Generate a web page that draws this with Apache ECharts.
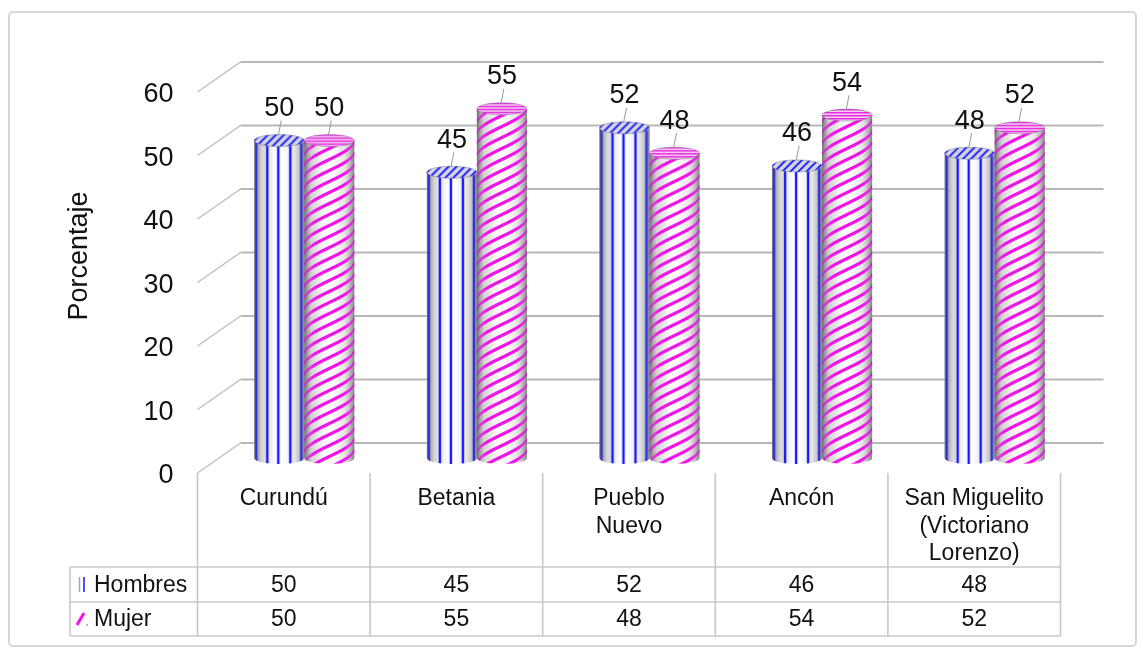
<!DOCTYPE html>
<html>
<head>
<meta charset="utf-8">
<script src="https://cdn.jsdelivr.net/npm/echarts@6/dist/echarts.min.js"></script>
<style>
  html, body { margin: 0; padding: 0; background: #fff; }
  #chart { width: 1143px; height: 652px; }
</style>
</head>
<body>
<div id="chart"></div>
<script>
// ---- data ----
const categories = ['Curundú', 'Betania', 'Pueblo\nNuevo', 'Ancón', 'San Miguelito\n(Victoriano\nLorenzo)'];
const seriesNames = ['Hombres', 'Mujer'];
const hombres = [50, 45, 52, 46, 48];
const mujer = [50, 55, 48, 54, 52];
const yTicks = [0, 10, 20, 30, 40, 50, 60];
const yTitle = 'Porcentaje';

// ---- look ----
const FONT = '"Liberation Sans", Arial, Helvetica, sans-serif';
const DX = 21.5, DY = 15;        // half depth of the 3D floor (bars stand in the middle plane)
const BAR_W = 50, RY = 6;        // cylinder width and ellipse half-height
const GRID_LINE = '#b8b8b8';
const TABLE_LINE = '#c8c8c8';
const BLUE = '#1414ff';
const MAGENTA = '#f014e8';

function makeCanvas(w, h) {
  const c = document.createElement('canvas');
  c.width = w; c.height = h;
  return c;
}

// vertical blue pinstripes wrapped round the Hombres cylinders
function verticalStripes() {
  const c = makeCanvas(BAR_W, 4), ctx = c.getContext('2d');
  ctx.fillStyle = BLUE;
  [2, 13, 24, 36, 47].forEach(x => ctx.fillRect(x - 1.2, 0, 2.4, 4));
  return c;
}

// magenta helix stripes for the Mujer cylinders
function helixStripes() {
  const P = 11, T = 3.6, C = 12, w = BAR_W;
  const c = makeCanvas(w, P), ctx = c.getContext('2d');
  const img = ctx.createImageData(w, P);
  for (let x = 0; x < w; x++) {
    const u = Math.max(-1, Math.min(1, (x + 0.5 - w / 2) / (w / 2)));
    const off = C * Math.asin(u);
    for (let y = 0; y < P; y++) {
      const d = (((y + 0.5 + off) % P) + P) % P - P / 2;
      const a = Math.max(0, Math.min(1, T / 2 + 0.5 - Math.abs(d)));
      const k = (y * w + x) * 4;
      img.data[k] = 240; img.data[k + 1] = 20; img.data[k + 2] = 232;
      img.data[k + 3] = Math.round(a * 255);
    }
  }
  ctx.putImageData(img, 0, 0);
  return c;
}

function diagonalTop() {
  const c = makeCanvas(8, 8), ctx = c.getContext('2d');
  ctx.strokeStyle = BLUE; ctx.lineWidth = 1.8;
  ctx.beginPath();
  ctx.moveTo(-1, 9); ctx.lineTo(9, -1);
  ctx.moveTo(-5, 5); ctx.lineTo(5, -5);
  ctx.moveTo(3, 13); ctx.lineTo(13, 3);
  ctx.stroke();
  return c;
}

function horizontalTop() {
  const c = makeCanvas(4, 3), ctx = c.getContext('2d');
  ctx.fillStyle = MAGENTA;
  ctx.fillRect(0, 0, 4, 1.4);
  return c;
}

const patterns = {
  Hombres: { body: verticalStripes(), top: diagonalTop(), topBase: '#d3d6e0', dx: -51 },
  Mujer:   { body: helixStripes(),    top: horizontalTop(), topBase: '#ebdbea', dx: -1 }
};

function linear(stops) {
  return { type: 'linear', x: 0, y: 0, x2: 1, y2: 0, global: false,
           colorStops: stops.map(([o, c]) => ({ offset: o, color: c })) };
}
const BASE_SHADE = [[0, '#8e8e8e'], [0.15, '#d4d4d4'], [0.4, '#fafafa'], [0.55, '#ffffff'], [0.8, '#e6e6e6'], [1, '#a2a2a2']];
const EDGE_SHADE = [[0, 'rgba(70,70,85,0.45)'], [0.18, 'rgba(255,255,255,0)'], [0.82, 'rgba(255,255,255,0)'], [1, 'rgba(70,70,85,0.35)']];

function cylinderSeries(name, values) {
  const p = patterns[name];
  return {
    type: 'custom',
    name: name,
    clip: false,
    z: 5,
    data: values.map((v, i) => [i, v]),
    renderItem(params, api) {
      const i = api.value(0), v = api.value(1);
      const top = api.coord([i, v]), base = api.coord([i, 0]);
      const x0 = top[0] + p.dx, x1 = x0 + BAR_W, mx = x0 + BAR_W / 2;
      const yT = top[1], yB = base[1];
      const body = `M${x0},${yT}L${x0},${yB}A${BAR_W / 2},${RY} 0 0 0 ${x1},${yB}L${x1},${yT}Z`;
      const ell = { cx: mx, cy: yT, rx: BAR_W / 2, ry: RY };
      return {
        type: 'group',
        children: [
          { type: 'path', shape: { pathData: body }, style: { fill: linear(BASE_SHADE) } },
          { type: 'path', shape: { pathData: body }, style: { fill: { image: p.body, repeat: 'repeat', x: x0, y: 0 } } },
          { type: 'path', shape: { pathData: body }, style: { fill: linear(EDGE_SHADE) } },
          { type: 'ellipse', shape: ell, style: { fill: p.topBase } },
          { type: 'ellipse', shape: ell, style: { fill: { image: p.top, repeat: 'repeat', x: x0, y: yT }, stroke: 'rgba(110,110,130,0.55)', lineWidth: 0.8 } },
          { type: 'line', shape: { x1: mx + 2, y1: yT - 20, x2: mx - 1, y2: yT - 5 }, style: { stroke: '#9a9a9a', lineWidth: 1 } },
          { type: 'text', x: mx, y: yT - 32,
            style: { text: String(v), font: `27px ${FONT}`, fill: '#111',
                     align: 'center', verticalAlign: 'middle', textAlign: 'center', textVerticalAlign: 'middle' } }
        ]
      };
    }
  };
}

// back wall gridlines, left wall edges and the value ticks on the front edge
const wallSeries = {
  type: 'custom',
  clip: false,
  z: 1,
  data: yTicks.map(v => [v]),
  renderItem(params, api) {
    const v = api.value(0);
    const cs = params.coordSys;
    const y = api.coord([0, v])[1];
    return {
      type: 'group',
      children: [
        { type: 'line', shape: { x1: cs.x + DX, y1: y - DY, x2: cs.x + cs.width + DX, y2: y - DY },
          style: { stroke: GRID_LINE, lineWidth: 2 } },
        { type: 'line', shape: { x1: cs.x - DX, y1: y + DY, x2: cs.x + DX, y2: y - DY },
          style: { stroke: '#c0c0c0', lineWidth: 1.5 } },
        { type: 'text', x: cs.x - DX - 24, y: y + DY + 3,
          style: { text: String(v), font: `27px ${FONT}`, fill: '#111',
                   align: 'right', verticalAlign: 'middle', textAlign: 'right', textVerticalAlign: 'middle' } }
      ]
    };
  }
};

// data table under the floor
const TABLE_LEFT = 70;
const tableSeries = {
  type: 'custom',
  clip: false,
  z: 2,
  data: categories.map((c, i) => [i, hombres[i], mujer[i]]),
  renderItem(params, api) {
    const i = api.value(0);
    const cs = params.coordSys;
    const band = cs.width / categories.length;
    const frontLeft = cs.x - DX, frontRight = cs.x + cs.width - DX;
    const left = frontLeft + band * i, cx = left + band / 2;
    const yFront = api.coord([i, 0])[1] + DY;
    const rowTop = yFront + 94, rowMid = rowTop + 35, rowBot = rowMid + 34;
    const txt = (x, y, s, extra) => ({
      type: 'text', x: x, y: y,
      style: Object.assign({ text: s, font: `23px ${FONT}`, fill: '#111',
                             align: 'center', verticalAlign: 'middle', textAlign: 'center', textVerticalAlign: 'middle' }, extra || {})
    });
    const ln = (x1, y1, x2, y2) => ({ type: 'line', shape: { x1, y1, x2, y2 }, style: { stroke: TABLE_LINE, lineWidth: 1.6 } });
    const children = [
      ln(left, yFront, left, rowBot),
      txt(cx, yFront + 12, categories[i], { verticalAlign: 'top', textVerticalAlign: 'top', lineHeight: 27.5 }),
      txt(cx, (rowTop + rowMid) / 2 + 1, String(api.value(1))),
      txt(cx, (rowMid + rowBot) / 2 + 1, String(api.value(2)))
    ];
    if (i === categories.length - 1) children.push(ln(frontRight, yFront, frontRight, rowBot));
    if (i === 0) {
      children.push(
        ln(TABLE_LEFT, rowTop, frontRight, rowTop),
        ln(TABLE_LEFT, rowMid, frontRight, rowMid),
        ln(TABLE_LEFT, rowBot, frontRight, rowBot),
        ln(TABLE_LEFT, rowTop, TABLE_LEFT, rowBot),
        // legend keys
        { type: 'line', shape: { x1: 79.5, y1: rowTop + 10, x2: 79.5, y2: rowMid - 10 }, style: { stroke: '#9da4d8', lineWidth: 1.5 } },
        { type: 'line', shape: { x1: 84, y1: rowTop + 10, x2: 84, y2: rowMid - 10 }, style: { stroke: BLUE, lineWidth: 1.5 } },
        { type: 'line', shape: { x1: 77, y1: rowBot - 11, x2: 84, y2: rowMid + 11 }, style: { stroke: MAGENTA, lineWidth: 3 } },
        { type: 'circle', shape: { cx: 87, cy: rowBot - 11, r: 0.9 }, style: { fill: '#999' } },
        txt(94, (rowTop + rowMid) / 2 + 1, seriesNames[0], { align: 'left', textAlign: 'left' }),
        txt(94, (rowMid + rowBot) / 2 + 1, seriesNames[1], { align: 'left', textAlign: 'left' })
      );
    }
    return { type: 'group', children: children };
  }
};

const chart = echarts.init(document.getElementById('chart'), null, { renderer: 'canvas' });
chart.setOption({
  animation: false,
  backgroundColor: '#ffffff',
  grid: { left: 219, top: 77, width: 863, height: 381 },
  xAxis: { type: 'category', data: categories, show: false },
  yAxis: { type: 'value', min: 0, max: 60, interval: 10, show: false },
  graphic: [
    { type: 'rect', shape: { x: 9, y: 12, width: 1127, height: 634, r: 4 },
      style: { fill: 'none', stroke: '#d6d6d6', lineWidth: 2 }, z: 0 },
    { type: 'text', x: 80, y: 256, rotation: Math.PI / 2,
      style: { text: yTitle, font: `27px ${FONT}`, fill: '#111', align: 'center', verticalAlign: 'middle',
               textAlign: 'center', textVerticalAlign: 'middle' } }
  ],
  series: [
    wallSeries,
    tableSeries,
    cylinderSeries(seriesNames[0], hombres),
    cylinderSeries(seriesNames[1], mujer)
  ]
});
</script>
</body>
</html>
